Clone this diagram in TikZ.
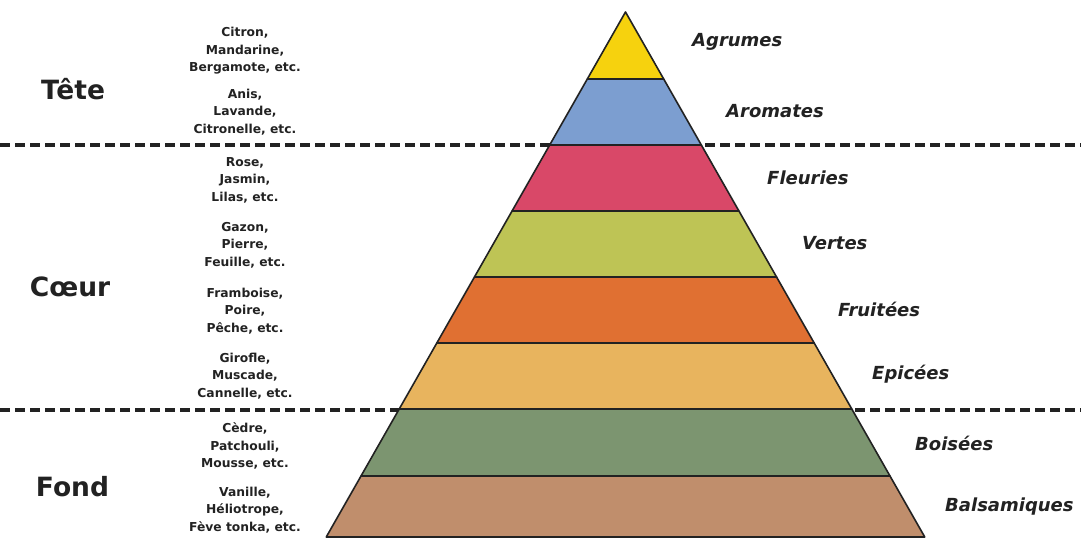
\documentclass[tikz,border=0pt]{standalone}
\usepackage{fontspec}
\setmainfont{DejaVu Sans}
\definecolor{cA}{HTML}{F6D20E}
\definecolor{cB}{HTML}{7C9ED0}
\definecolor{cC}{HTML}{D94868}
\definecolor{cD}{HTML}{BEC455}
\definecolor{cE}{HTML}{E07032}
\definecolor{cF}{HTML}{E8B45E}
\definecolor{cG}{HTML}{7C9570}
\definecolor{cH}{HTML}{C08E6C}
\definecolor{ink}{HTML}{222222}
\tikzset{
  layer/.style={draw=ink, line width=1.6pt, line join=round},
  sep/.style={ink, line width=4pt, dash pattern=on 10pt off 5pt},
  notes/.style={align=center, text=ink, font=\bfseries\fontsize{12.3}{17.5}\selectfont, inner sep=0pt},
  family/.style={anchor=west, text=ink, font=\bfseries\itshape\fontsize{18}{20}\selectfont, inner sep=0pt},
  stage/.style={text=ink, font=\bfseries\fontsize{26.5}{30}\selectfont, inner sep=0pt}
}
\begin{document}
\begin{tikzpicture}[x=1pt,y=-1pt]
\useasboundingbox (0,0) rectangle (1081,538);
\fill[white] (0,0) rectangle (1081,538);
% separators
\draw[sep] (0,145) -- (1081,145);
\draw[sep] (0,410) -- (1081,410);
% pyramid layers
\foreach \t/\b/\c in {12/79/cA, 79/145/cB, 145/211/cC, 211/277/cD, 277/343/cE, 343/409/cF, 409/476/cG, 476/537/cH}{
  \filldraw[layer, fill=\c]
    ({625.5-0.57*(\t-12)},\t) -- ({625.5+0.57*(\t-12)},\t) --
    ({625.5+0.57*(\b-12)},\b) -- ({625.5-0.57*(\b-12)},\b) -- cycle;
}
% stage labels
\node[stage] (tete) at (73,89) {Tête};
\node[stage] (coeur) at (70,287) {Cœur};
\node[stage] (fond) at (72.5,487) {Fond};
% notes
\node[notes] (n1) at (245,51) {Citron,\\Mandarine,\\Bergamote, etc.};
\node[notes] (n2) at (245,112) {Anis,\\Lavande,\\Citronelle, etc.};
\node[notes] (n3) at (245,180) {Rose,\\Jasmin,\\Lilas, etc.};
\node[notes] (n4) at (245,245) {Gazon,\\Pierre,\\Feuille, etc.};
\node[notes] (n5) at (245,311) {Framboise,\\Poire,\\Pêche, etc.};
\node[notes] (n6) at (245,376) {Girofle,\\Muscade,\\Cannelle, etc.};
\node[notes] (n7) at (245,446) {Cèdre,\\Patchouli,\\Mousse, etc.};
\node[notes] (n8) at (245,510) {Vanille,\\Héliotrope,\\Fève tonka, etc.};
% families
\node[family] (f1) at (692,42) {Agrumes};
\node[family] (f2) at (726,111) {Aromates};
\node[family] (f3) at (767,178) {Fleuries};
\node[family] (f4) at (802,243) {Vertes};
\node[family] (f5) at (838,309) {Fruitées};
\node[family] (f6) at (872,374) {Epicées};
\node[family] (f7) at (915,443) {Boisées};
\node[family] (f8) at (945,507) {Balsamiques};
\end{tikzpicture}
\end{document}
